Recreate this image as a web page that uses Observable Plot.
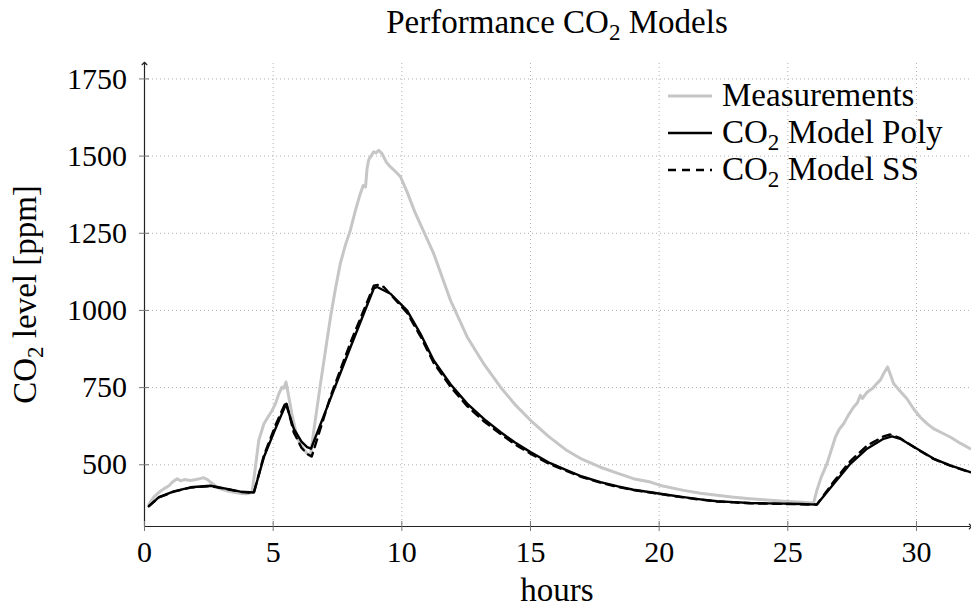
<!DOCTYPE html>
<html>
<head>
<meta charset="utf-8">
<script src="https://cdn.jsdelivr.net/npm/d3@7"></script>
<script src="https://cdn.jsdelivr.net/npm/@observablehq/plot@0.6"></script>
<style>
  body { margin: 0; background: #fff; }
  #chart { width: 971px; height: 609px; }
  #chart svg text { font-family: "Liberation Serif", "DejaVu Serif", serif; }
</style>
</head>
<body>
<div id="chart"></div>
<script>
// Measured CO2 concentration (hours since start, ppm)
const measHours = [0.17,0.36,0.55,0.75,0.95,1.1,1.27,1.4,1.55,1.79,2.0,2.15,2.3,2.45,2.56,2.75,2.95,3.2,3.47,3.75,3.99,4.18,
  4.31,4.44,4.64,4.8,4.96,5.1,5.22,5.35,5.42,5.5,5.61,5.75,5.93,6.1,6.32,6.45,6.58,6.84,7.05,7.23,7.42,7.61,7.8,8.0,8.2,
  8.39,8.5,8.59,8.65,8.71,8.8,8.91,9.0,9.1,9.23,9.4,9.56,9.75,9.95,10.2,10.5,11.24,11.89,12.54,13.2,13.83,14.4,15.0,
  15.7,16.42,17.0,17.72,18.4,19.0,19.66,20.05,20.95,21.6,22.25,22.9,23.54,24.2,24.84,25.4,26.0,26.13,26.3,26.52,26.7,
  26.85,27.0,27.17,27.35,27.56,27.7,27.82,27.9,28.08,28.3,28.46,28.6,28.72,28.88,29.11,29.35,29.63,29.9,30.15,30.4,
  30.66,31.0,31.31,31.7,32.09];
const measPpm = [372,395,410,422,432,445,455,448,452,449,452,455,458,452,444,432,422,416,411,407,406,411,
  492,579,633,655,676,700,730,752,748,768,719,655,590,560,536,528,611,763,880,979,1070,1152,1210,1260,1325,
  1379,1405,1400,1460,1487,1500,1514,1510,1519,1508,1480,1465,1450,1433,1385,1320,1184,1033,914,825,752,695,644,
  592,546,518,492,472,455,444,433,417,408,401,395,390,386,382,379,376,417,460,503,550,
  590,615,633,660,687,700,725,715,735,748,763,775,795,817,763,740,714,680,654,634,
  617,603,590,570,552];

// Polynomial model output
const polyHours = [0.17,0.56,1.14,1.79,2.56,3.21,3.73,4.25,4.64,5.09,5.5,5.8,6.1,6.32,6.47,7.23,8.0,8.91,9.04,9.56,10.2,
  10.72,11.24,11.9,12.54,13.2,13.83,14.4,15.0,15.7,16.42,17.0,17.72,18.4,19.0,19.66,20.3,20.95,21.6,22.25,22.9,23.54,
  24.2,24.84,25.5,26.13,26.78,27.43,28.08,28.72,29.05,29.37,30.02,30.66,31.31,32.09];
const polyPpm = [366,395,414,427,432,422,413,410,525,617,697,617,575,557,552,715,880,1071,1076,1054,1000,
  925,838,760,698,648,606,572,541,508,482,462,444,430,419,411,403,395,388,382,379,376,
  375,374,373,371,438,503,552,584,592,584,552,520,498,476];

// State-space model output
const ssHours = [0.17,0.56,1.14,1.79,2.56,3.21,3.73,4.25,4.64,5.09,5.5,5.8,6.1,6.32,6.5,7.23,8.0,8.91,9.1,9.3,9.56,10.2,
  10.72,11.24,11.9,12.54,13.2,13.83,14.4,15.0,15.7,16.42,17.0,17.72,18.4,19.0,19.66,20.3,20.95,21.6,22.25,22.9,23.54,
  24.2,24.84,25.5,26.13,26.78,27.43,28.08,28.72,28.98,29.37,30.02,30.66,31.31,32.09];
const ssPpm = [366,394,413,426,431,421,412,409,530,628,705,605,555,535,527,722,895,1080,1083,1076,1052,993,
  917,830,752,690,640,600,566,536,504,479,460,442,428,418,410,402,394,387,381,378,375,
  374,373,372,371,445,512,562,592,598,586,551,519,497,475];

const xTicks = [0, 5, 10, 15, 20, 25, 30];
const yTicks = [500, 750, 1000, 1250, 1500, 1750];
const xDomain = [0, 32.1];
const yDomain = [300, 1800];

const titleText = "Performance CO₂ Models";
const xLabelText = "hours";
const yLabelText = "CO₂ level [ppm]";
const seriesNames = ["Measurements", "CO₂ Model Poly", "CO₂ Model SS"];

const rows = (hours, ppm) => hours.map((h, i) => ({hours: h, ppm: ppm[i]}));
const meas = rows(measHours, measPpm);
const poly = rows(polyHours, polyPpm);
const ss = rows(ssHours, ssPpm);

const measColor = "#c6c6c6";
const gridStyle = {stroke: "#b0b0b0", strokeOpacity: 1, strokeWidth: 1, strokeDasharray: "1,3"};

const W = 971, H = 609;
const M = {top: 63, right: 1, bottom: 83, left: 144};

const plot = Plot.plot({
  width: W, height: H,
  marginTop: M.top, marginRight: M.right, marginBottom: M.bottom, marginLeft: M.left,
  style: {background: "white", color: "black"},
  x: {domain: xDomain},
  y: {domain: yDomain},
  marks: [
    Plot.gridX(xTicks.filter(t => t > xDomain[0]), gridStyle),
    Plot.gridY(yTicks, gridStyle),
    Plot.line(meas, {x: "hours", y: "ppm", stroke: measColor, strokeWidth: 3, strokeLinejoin: "round"}),
    Plot.line(poly, {x: "hours", y: "ppm", stroke: "black", strokeWidth: 2.4, strokeLinejoin: "round"}),
    Plot.line(ss, {x: "hours", y: "ppm", stroke: "black", strokeWidth: 2.4, strokeDasharray: "8,6"}),
    // axis lines with arrow heads
    Plot.link([0], {x1: xDomain[0], x2: xDomain[0], y1: yDomain[0], y2: yDomain[1], stroke: "#222", strokeWidth: 1.2, markerEnd: "arrow"}),
    Plot.link([0], {x1: xDomain[0], x2: xDomain[1], y1: yDomain[0], y2: yDomain[0], stroke: "#222", strokeWidth: 1.2, markerEnd: "arrow"}),
    // centered tick marks
    Plot.axisY(yTicks, {tickSize: 10, dx: 5, fill: "none", stroke: "#777", label: null}),
    Plot.axisX(xTicks, {tickSize: 10, dy: -5, fill: "none", stroke: "#777", label: null}),
    // tick labels
    Plot.axisY(yTicks, {tickSize: 0, tickPadding: 17.5, fontSize: 30, tickFormat: "d", label: null}),
    Plot.axisX(xTicks, {tickSize: 0, tickPadding: 14, fontSize: 30, tickFormat: "d", label: null})
  ]
});

document.getElementById("chart").appendChild(plot);

// Text with "₂" drawn as a lowered, smaller "2"
function richText(sel, str, size) {
  const parts = str.split("₂");
  parts.forEach((p, i) => {
    if (i > 0) {
      sel.append("tspan").attr("dy", size * 0.22).attr("font-size", size * 0.7).text("2");
      sel.append("tspan").attr("dy", -size * 0.22).attr("font-size", size).text(p);
    } else {
      sel.append("tspan").attr("font-size", size).text(p);
    }
  });
  return sel;
}

const svg = d3.select(plot);
const cx = M.left + (W - M.left - M.right) / 2;
const cy = M.top + (H - M.top - M.bottom) / 2;
const textSize = 33;

richText(svg.append("text").attr("x", cx).attr("y", 33).attr("text-anchor", "middle").attr("fill", "black"), titleText, textSize);
richText(svg.append("text").attr("x", cx).attr("y", 601).attr("text-anchor", "middle").attr("fill", "black"), xLabelText, textSize);
richText(svg.append("text").attr("transform", `translate(36,${cy}) rotate(-90)`).attr("text-anchor", "middle").attr("fill", "black"), yLabelText, textSize);

// Legend
const legendStyles = [
  {stroke: measColor, width: 3, dash: null},
  {stroke: "black", width: 2.4, dash: null},
  {stroke: "black", width: 2.4, dash: "8,6"}
];
const legend = svg.append("g").attr("transform", "translate(668,96)");
seriesNames.forEach((name, i) => {
  const g = legend.append("g").attr("transform", `translate(0,${i * 37})`);
  g.append("line").attr("x1", 0).attr("x2", 44).attr("y1", 0).attr("y2", 0)
    .attr("stroke", legendStyles[i].stroke).attr("stroke-width", legendStyles[i].width)
    .attr("stroke-dasharray", legendStyles[i].dash);
  richText(g.append("text").attr("x", 54).attr("y", 10).attr("text-anchor", "start").attr("fill", "black"), name, textSize);
});
</script>
</body>
</html>
